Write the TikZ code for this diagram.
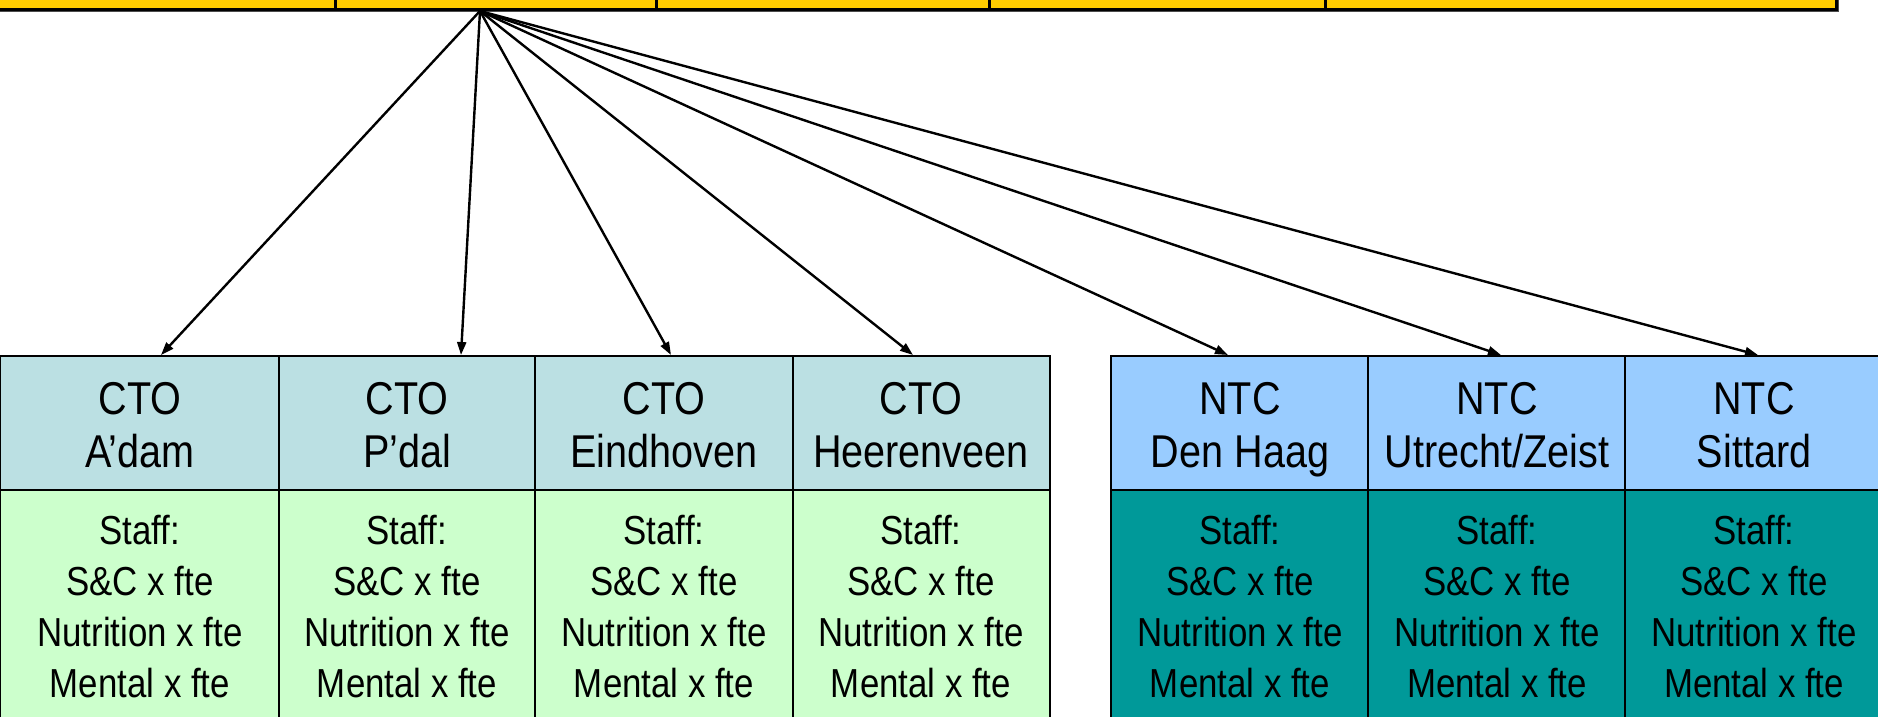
\documentclass[tikz,border=0pt]{standalone}
\usepackage{fontspec}
\setmainfont{Liberation Sans}[FakeStretch=0.86]
\usetikzlibrary{arrows.meta}
\definecolor{barY}{RGB}{255,204,0}
\definecolor{ctoHead}{RGB}{187,224,227}
\definecolor{ctoBody}{RGB}{204,255,204}
\definecolor{ntcHead}{RGB}{153,204,255}
\definecolor{ntcBody}{RGB}{0,153,153}
\newcommand\mkhead[2]{\parbox[t]{300pt}{\centering\fontsize{46}{53}\selectfont #1\\#2}}
\newcommand\mkbody{\parbox[t]{300pt}{\centering\fontsize{40.5}{51}\selectfont Staff:\\S\&C x fte\\Nutrition x fte\\Mental x fte}}
\begin{document}
\begin{tikzpicture}[x=1pt,y=-1pt,
  cellbox/.style={draw=black, line width=2.4pt, inner sep=0pt, outer sep=0pt, anchor=north west},
  barcell/.style={draw=black, line width=3pt, fill=barY, inner sep=0pt, outer sep=0pt, anchor=north west, minimum height=120pt},
  txt/.style={anchor=base, inner sep=0pt},
  link/.style={line width=2.4pt, -{Triangle[length=13pt,width=9pt]}}]
\useasboundingbox (0,0) rectangle (1878,716);
\clip (0,0) rectangle (1878,716);
% top bar shadow and cells
\fill[black!70] (-30,-120) rectangle (1838.5,11.5);
\node[barcell, minimum width=365pt] (b1) at (-30,-111) {};
\node[barcell, minimum width=321pt] (b2) at (335,-111) {};
\node[barcell, minimum width=333pt] (b3) at (656,-111) {};
\node[barcell, minimum width=336pt] (b4) at (989,-111) {};
\node[barcell, minimum width=511pt] (b5) at (1325,-111) {};
% CTO cells
\foreach \i/\x/\w/\cx/\a/\b in {1/0/279/140/CTO/A’dam, 2/279/256/407/CTO/P’dal, 3/535/258/664/CTO/Eindhoven, 4/793/257/921/CTO/Heerenveen}{
  \node[cellbox, fill=ctoHead, minimum width=\w pt, minimum height=134pt] (ch\i) at (\x,356) {};
  \node[cellbox, fill=ctoBody, minimum width=\w pt, minimum height=240pt] (cb\i) at (\x,490) {};
  \node[txt] (cht\i) at (\cx,414) {\mkhead{\a}{\b}};
  \node[txt] (cbt\i) at (\cx,544) {\mkbody};
}
% NTC cells
\foreach \i/\x/\cx/\a/\b in {1/1111/1240/NTC/Den Haag, 2/1368/1497/NTC/Utrecht\slash Zeist, 3/1625/1754/NTC/Sittard}{
  \node[cellbox, fill=ntcHead, minimum width=257pt, minimum height=134pt] (nh\i) at (\x,356) {};
  \node[cellbox, fill=ntcBody, minimum width=257pt, minimum height=240pt] (nb\i) at (\x,490) {};
  \node[txt] (nht\i) at (\cx,414) {\mkhead{\a}{\b}};
  \node[txt] (nbt\i) at (\cx,544) {\mkbody};
}
% connectors
\coordinate (src) at (480,11);
\coordinate (t1) at (161,355);
\coordinate (t2) at (461,355);
\coordinate (t3) at (671,355);
\coordinate (t4) at (913,355);
\coordinate (t5) at (1228,355);
\coordinate (t6) at (1501,355);
\coordinate (t7) at (1758,355);
\foreach \t in {t1,t2,t3,t4,t5,t6,t7}{\draw[link] (src) -- (\t);}
\end{tikzpicture}
\end{document}
